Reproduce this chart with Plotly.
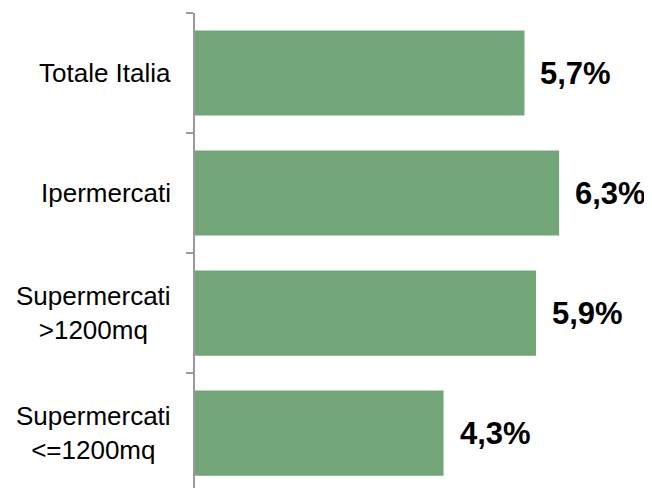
import plotly.graph_objects as go

categories = ["Totale Italia", "Ipermercati", "Supermercati >1200mq", "Supermercati <=1200mq"]
category_labels = ["Totale Italia", "Ipermercati", "Supermercati<br>>1200mq", "Supermercati<br><=1200mq"]
values = [5.7, 6.3, 5.9, 4.3]
value_labels = ["5,7%", "6,3%", "5,9%", "4,3%"]

# page body has an 8px default margin, compensate
W, H = 644, 480
L, T = 187, 5
plot_w = W - L

fig = go.Figure()
fig.add_trace(go.Bar(
    y=categories, x=values, orientation="h",
    marker=dict(color="#72A577", line=dict(width=0)),
    width=0.71, hoverinfo="skip",
))

for cat, lab in zip(categories, category_labels):
    fig.add_annotation(
        xref="paper", yref="y", x=-22 / plot_w, y=cat,
        text=lab, showarrow=False, xanchor="right", yanchor="middle",
        align="center", font=dict(family="Liberation Sans, Arial", size=26, color="#000000"),
    )

for cat, v, lab in zip(categories, values, value_labels):
    fig.add_annotation(
        xref="x", yref="y", x=v, y=cat, text=f"<b>{lab}</b>", showarrow=False,
        xanchor="left", yanchor="middle", xshift=14,
        font=dict(family="Liberation Sans, Arial", size=31, color="#000000"),
    )

fig.update_layout(
    width=W, height=H,
    margin=dict(l=L, r=0, t=T, b=0),
    paper_bgcolor="white", plot_bgcolor="white",
    showlegend=False,
    xaxis=dict(range=[0, plot_w / 57.8], visible=False, fixedrange=True),
    yaxis=dict(
        type="category", range=[3.458, -0.5],
        showline=True, linecolor="#9A9A9A", linewidth=1.5,
        ticks="outside", ticklen=7, tickcolor="#9A9A9A", tickwidth=1.5,
        tickson="boundaries", showticklabels=False, showgrid=False, zeroline=False,
    ),
)

fig.write_html("out.html")
